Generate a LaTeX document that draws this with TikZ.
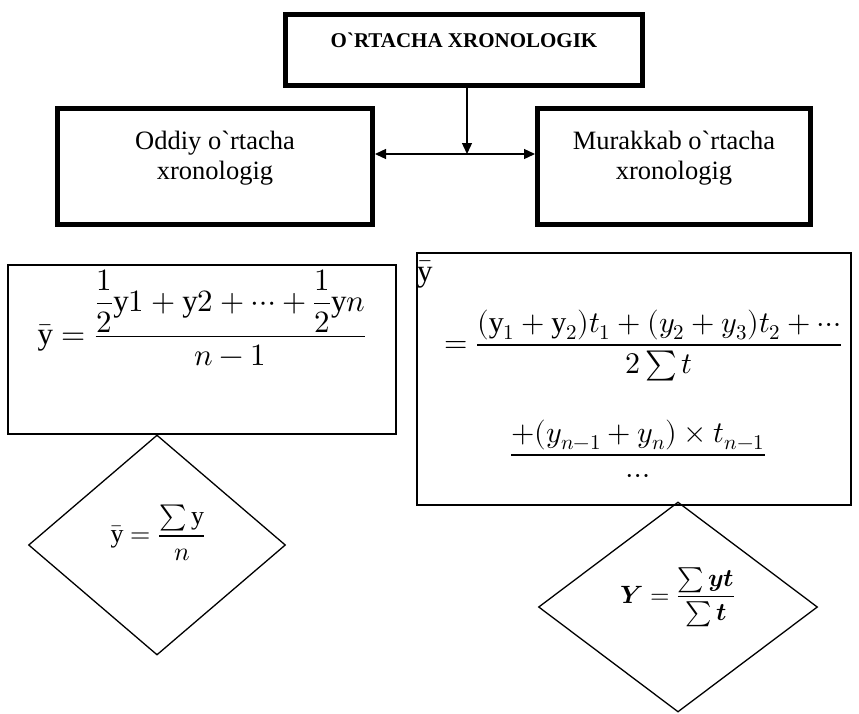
\documentclass[tikz,border=0pt]{standalone}
\usepackage{amsmath, amssymb}
\usepackage{fontspec}
\usepackage{unicode-math}
\setmainfont{Liberation Serif}[Ligatures=TeXOff]
\setmathfont{Latin Modern Math}
\usepackage{tikz}
\usetikzlibrary{calc, positioning, arrows.meta, shapes.geometric}

\begin{document}
\begin{tikzpicture}[
  x=1pt, y=-1pt,
  headbox/.style={draw=black, line width=5pt, inner sep=0pt},
  formbox/.style={draw=black, line width=1.2pt, inner sep=0pt},
  rhomb/.style={draw=black, line width=1.3pt, diamond, inner sep=0pt},
  boxtxt/.style={font=\fontsize{26.5}{30}\selectfont, align=center},
  mathtxt/.style={font=\fontsize{26}{30}\selectfont, inner sep=0pt},
  bigmath/.style={font=\fontsize{31}{35}\selectfont, inner sep=0pt},
  arr/.style={line width=1.3pt, -{Triangle[length=11pt, width=10pt]}}
]
\useasboundingbox (0,0) rectangle (859,713);

% header and the two kinds
\node[headbox, minimum width=357pt, minimum height=71pt] (head) at (464,50) {};
\node[font=\bfseries\fontsize{21}{24}\selectfont] (headtxt) at (464,40) {O`RTACHA XRONOLOGIK};

\node[headbox, minimum width=315pt, minimum height=116pt] (oddiy) at (215,166.5) {};
\node[boxtxt] (oddiytxt) at (215,158) {Oddiy o`rtacha\\xronologig};

\node[headbox, minimum width=273pt, minimum height=116pt] (murakkab) at (674,166.5) {};
\node[boxtxt] (murakkabtxt) at (674,158) {Murakkab o`rtacha\\xronologig};

\coordinate (split) at (467,154);
\draw[arr] (head.south -| split) -- (split);
\draw[arr] (split) -- (split -| oddiy.east);
\draw[arr] (split) -- (split -| murakkab.west);

% formulas
\node[formbox, minimum width=388pt, minimum height=169pt] (oddiyf) at (202,349.5) {};
\node[bigmath, anchor=base] (oddiyftxt) at (202,344.5)
  {$\bar{\mathrm{y}}=\dfrac{\dfrac{1}{2}\mathrm{y}1+\mathrm{y}2+\cdots+\dfrac{1}{2}\mathrm{y}n}{n-1}$};

\node[formbox, minimum width=434pt, minimum height=252pt] (murakkabf) at (634,379) {};
\node[bigmath, anchor=base west] (ybar) at (417,281) {$\bar{\mathrm{y}}$};
\node[bigmath, font=\fontsize{30}{34}\selectfont, anchor=base west] (murakkabftxt) at (444,352.5)
  {$=\dfrac{(\mathrm{y}_1+\mathrm{y}_2)t_1+(y_2+y_3)t_2+\cdots}{2\sum t}$};
\node[bigmath, font=\fontsize{30}{34}\selectfont, anchor=base] (murakkabftail) at (638,462.5)
  {$\dfrac{+(y_{n-1}+y_n)\times t_{n-1}}{\cdots}$};

% short forms
\node[rhomb, minimum width=257pt, minimum height=220pt] (oddiyd) at (157,545) {};
\node[mathtxt, anchor=base] (oddiydtxt) at (158,542.5)
  {$\bar{\mathrm{y}}=\dfrac{\sum\mathrm{y}}{n}$};
\node[rhomb, minimum width=279pt, minimum height=210pt] (murakkabd) at (678,607) {};
\node[mathtxt, font=\fontsize{25}{29}\selectfont, anchor=base] (murakkabdtxt) at (678,603)
  {$\symbfit{Y}=\dfrac{\sum\symbfit{yt}}{\sum\symbfit{t}}$};

\end{tikzpicture}
\end{document}
